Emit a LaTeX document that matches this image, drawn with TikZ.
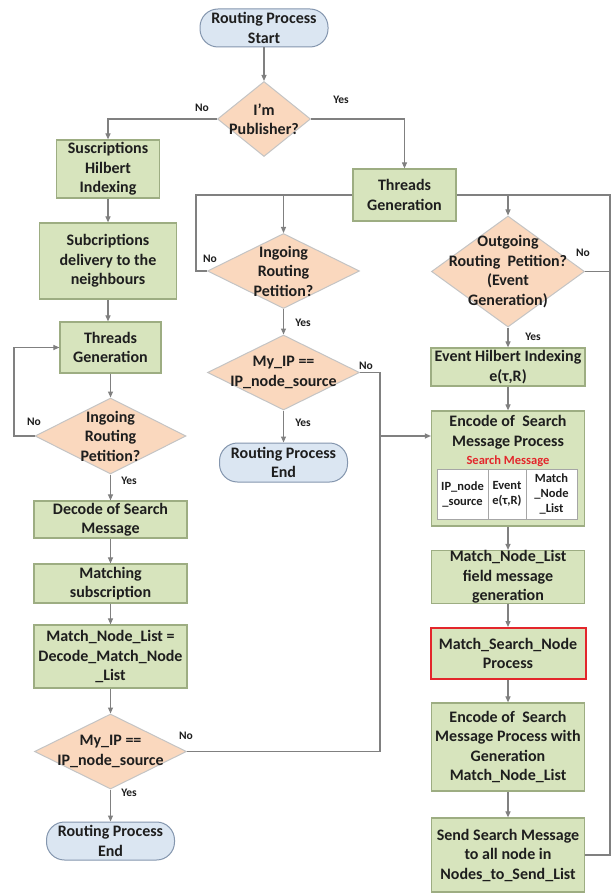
\documentclass[tikz,border=0pt]{standalone}
\usepackage{fontspec}
\setmainfont{Carlito}
\usetikzlibrary{shapes.geometric,arrows.meta}
\definecolor{boxfill}{HTML}{D7E4BD}
\definecolor{boxline}{HTML}{9DAD82}
\definecolor{diafill}{HTML}{FAD8BE}
\definecolor{dialine}{HTML}{C4C4C4}
\definecolor{termfill}{HTML}{DBE6F2}
\definecolor{termline}{HTML}{8496AE}
\definecolor{flowline}{HTML}{808080}
\definecolor{ink}{HTML}{1E1E1E}
\definecolor{alert}{HTML}{E3262B}
\begin{document}
\begin{tikzpicture}[x=1pt,y=-1pt,
  every node/.style={font=\bfseries\fontsize{16}{19.5}\selectfont, text=ink, align=center, inner sep=0pt},
  proc/.style={draw=boxline, fill=boxfill, line width=1.2pt, rectangle},
  term/.style={draw=termline, fill=termfill, line width=1pt, rectangle, rounded corners=18pt},
  dia/.style={draw=dialine, fill=diafill, line width=1pt, diamond},
  cell/.style={draw=flowline!70, fill=white, line width=0.8pt, rectangle,
    font=\bfseries\fontsize{12.5}{15}\selectfont},
  flow/.style={draw=flowline, line width=1.1pt},
  arr/.style={flow, -{Triangle[length=6pt,width=5pt]}},
  lbl/.style={font=\bfseries\fontsize{11.5}{13}\selectfont}
]
\fill[white] (0,0) rectangle (612,893);
\useasboundingbox (0,0) rectangle (612,893);

% ---- top ----
\node[term, minimum width=128pt, minimum height=38pt] (start) at (264,28) {Routing Process\\Start};
\node[dia, minimum width=93pt, minimum height=75pt] (d1) at (264,119) {};
\node at (d1) {I’m\\Publisher?};

% ---- left column (subscriber) ----
\node[proc, minimum width=103pt, minimum height=58pt] (sub1) at (108,169) {Suscriptions\\Hilbert\\Indexing};
\node[proc, minimum width=137pt, minimum height=76pt] (sub2) at (108,261) {Subcriptions\\delivery to the\\neighbours};
\node[proc, minimum width=101pt, minimum height=51pt] (thr2) at (110.5,347.5) {Threads\\Generation};
\node[dia, minimum width=151pt, minimum height=76pt] (ing1) at (110.5,436) {};
\node at (ing1) {Ingoing\\Routing\\Petition?};
\node[proc, minimum width=153pt, minimum height=37pt] (dec) at (110.5,519.5) {Decode of Search\\Message};
\node[proc, minimum width=153pt, minimum height=39pt] (mat) at (110.5,583.5) {Matching\\subscription};
\node[proc, minimum width=153pt, minimum height=63pt] (mnl) at (110.5,656.5) {Match\_Node\_List =\\Decode\_Match\_Node\\\_List};
\node[dia, minimum width=152pt, minimum height=75pt] (ip1) at (110.5,751.5) {};
\node at (ip1) {My\_IP ==\\IP\_node\_source};
\node[term, minimum width=128pt, minimum height=38pt] (end1) at (110.5,841) {Routing Process\\End};

% ---- publisher threads ----
\node[proc, minimum width=103pt, minimum height=52pt] (thr1) at (404.5,195) {Threads\\Generation};
\node[dia, minimum width=152pt, minimum height=75pt] (ing2) at (283.5,271) {};
\node at (ing2) {Ingoing\\Routing\\Petition?};
\node[dia, minimum width=152pt, minimum height=75pt] (ip2) at (283.5,372.5) {};
\node at (ip2) {My\_IP ==\\IP\_node\_source};
\node[term, minimum width=128pt, minimum height=39pt] (end2) at (283.5,462.5) {Routing Process\\End};

\node[dia, minimum width=153pt, minimum height=111pt] (out) at (508,271.5) {};
\node at (out) {Outgoing\\Routing\ \ Petition?\\(Event\\Generation)};
\node[proc, minimum width=154pt, minimum height=38pt] (ehi) at (508,367) {Event Hilbert Indexing\\e(τ,R)};
\node[proc, minimum width=153pt, minimum height=115pt] (enc) at (508,468.5) {};
\node at (508,432) {Encode of\ \ Search\\Message Process};
\node[text=alert, font=\bfseries\fontsize{12.5}{15}\selectfont] (smsg) at (508,461) {Search Message};
\node[cell, minimum width=51pt, minimum height=50pt] (c1) at (462.5,494) {IP\_node\\\_source};
\node[cell, minimum width=38pt, minimum height=50pt] (c2) at (507,494) {Event\\e(τ,R)};
\node[cell, minimum width=51pt, minimum height=50pt] (c3) at (551.5,494) {Match\\\_Node\\\_List};
\node[proc, minimum width=153pt, minimum height=52pt] (mnlf) at (508,577) {Match\_Node\_List\\field message\\generation};
\node[proc, draw=alert, line width=2pt, minimum width=155pt, minimum height=51pt] (msn) at (508,653.5) {Match\_Search\_Node\\Process};
\node[proc, minimum width=153pt, minimum height=88pt] (enc2) at (508,747) {Encode of\ \ Search\\Message Process with\\Generation\\Match\_Node\_List};
\node[proc, minimum width=153pt, minimum height=74pt] (send) at (508,855) {Send Search Message\\to all node in\\Nodes\_to\_Send\_List};

% ---- connectors ----
\draw[arr] (start) -- (d1);
\draw[arr] (d1.west) -| (sub1.north);
\draw[arr] (d1.east) -| (thr1.north);

\coordinate (lj) at (196,195);
\coordinate (rj) at (610,195);
\draw[flow] (thr1.west) -- (lj) |- (ing2.west);
\draw[arr] (ing2.north |- lj) -- (ing2.north);
\draw[flow] (thr1.east) -- (rj) |- (out.east);
\draw[flow] (rj) |- (send.east);
\draw[arr] (out.north |- rj) -- (out.north);

\draw[arr] (sub1) -- (sub2);
\draw[arr] (sub2.south) -- (sub2.south |- thr2.north);
\draw[arr] (thr2) -- (ing1);
\draw[arr] (ing1) -- (dec);
\draw[arr] (dec) -- (mat);
\draw[arr] (mat) -- (mnl);
\draw[arr] (mnl) -- (ip1);
\draw[arr] (ip1) -- (end1);
\coordinate (ll) at (14,436);
\draw[arr] (ing1.west) -- (ll) |- (thr2.west);

\draw[arr] (ing2) -- (ip2);
\draw[arr] (ip2) -- (end2);
\coordinate (mj) at (380,436);
\draw[flow] (ip2.east) -| (mj);
\draw[flow] (ip1.east) -| (mj);
\draw[arr] (mj) -- (mj -| enc.west);

\draw[arr] (out) -- (ehi);
\draw[arr] (ehi) -- (enc);
\draw[arr] (enc) -- (mnlf);
\draw[arr] (mnlf) -- (msn);
\draw[arr] (msn) -- (enc2);
\draw[arr] (enc2) -- (send);

% ---- branch labels ----
\node[lbl] at (202,108) {No};
\node[lbl] at (341,100) {Yes};
\node[lbl] at (210,259) {No};
\node[lbl] at (583,253) {No};
\node[lbl] at (303,323) {Yes};
\node[lbl] at (366,366) {No};
\node[lbl] at (303,423) {Yes};
\node[lbl] at (533,337) {Yes};
\node[lbl] at (34,422) {No};
\node[lbl] at (129,481) {Yes};
\node[lbl] at (186,736) {No};
\node[lbl] at (129,793) {Yes};
\end{tikzpicture}
\end{document}
